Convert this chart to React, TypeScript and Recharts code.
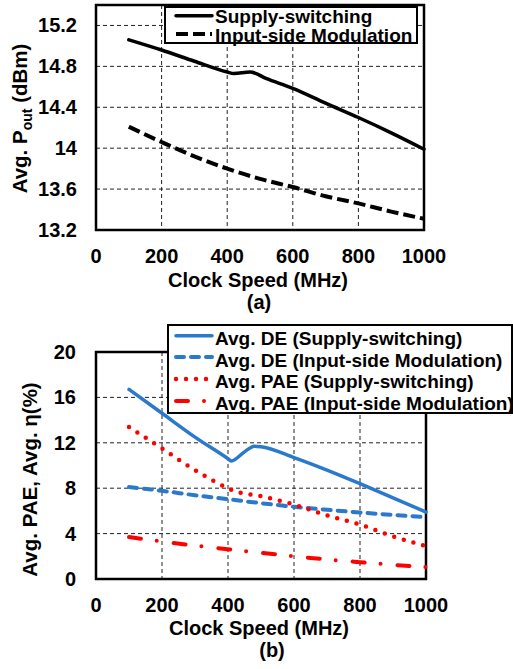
import React from 'react';
import { LineChart, Line, XAxis, YAxis, CartesianGrid, ReferenceArea, Label } from 'recharts';

// ---------- Data: chart (a) ----------
const clockSupplyA = [100, 200, 300, 400, 420, 470, 520, 600, 700, 800, 900, 1000];
const poutSupply = [15.06, 14.96, 14.85, 14.745, 14.73, 14.745, 14.68, 14.585, 14.44, 14.3, 14.15, 13.99];
const clockInputA = [100, 200, 300, 400, 500, 600, 700, 800, 900, 1000];
const poutInput = [14.21, 14.06, 13.92, 13.8, 13.7, 13.62, 13.53, 13.46, 13.38, 13.31];

// ---------- Data: chart (b) ----------
const clockDeSupply = [100, 200, 300, 400, 410, 450, 480, 500, 600, 700, 800, 900, 1000];
const deSupply = [16.7, 14.6, 12.5, 10.6, 10.4, 11.2, 11.7, 11.65, 10.7, 9.6, 8.4, 7.15, 5.9];
const clockDeInput = [100, 200, 300, 400, 500, 600, 700, 800, 900, 1000];
const deInput = [8.1, 7.77, 7.38, 7.03, 6.68, 6.36, 6.1, 5.86, 5.65, 5.45];
const clockPaeSupply = [100, 200, 300, 400, 420, 500, 600, 700, 800, 900, 1000];
const paeSupply = [13.4, 11.5, 9.6, 8.0, 7.75, 7.3, 6.55, 5.6, 4.8, 3.75, 2.9];
const clockPaeInput = [100, 200, 300, 400, 500, 600, 700, 800, 900, 1000];
const paeInput = [3.7, 3.3, 2.95, 2.62, 2.3, 2.0, 1.72, 1.48, 1.25, 1.05];

// ---------- Ticks ----------
const xTicks = [0, 200, 400, 600, 800, 1000];
const yTicksA = [13.2, 13.6, 14, 14.4, 14.8, 15.2];
const yTicksB = [0, 4, 8, 12, 16, 20];

const FONT = '"Liberation Sans", Arial, sans-serif';
const BLUE = '#2b79cc';
const RED = '#ff0000';

const zip = (xs: number[], ys: number[]) => xs.map((x, i) => ({ x, y: ys[i] }));

const seriesA = [
  { name: 'Supply-switching', data: zip(clockSupplyA, poutSupply), color: '#000', width: 3.5, dash: undefined as string | undefined, cap: 'round' },
  { name: 'Input-side Modulation', data: zip(clockInputA, poutInput), color: '#000', width: 4, dash: '12 5', cap: 'butt' },
];

const seriesB = [
  { name: 'Avg. DE (Supply-switching)', data: zip(clockDeSupply, deSupply), color: BLUE, width: 3.5, dash: undefined as string | undefined, cap: 'round' },
  { name: 'Avg. DE (Input-side Modulation)', data: zip(clockDeInput, deInput), color: BLUE, width: 4, dash: '8 7', cap: 'round' },
  { name: 'Avg. PAE (Supply-switching)', data: zip(clockPaeSupply, paeSupply), color: RED, width: 4.5, dash: '0 10', cap: 'round' },
  { name: 'Avg. PAE (Input-side Modulation)', data: zip(clockPaeInput, paeInput), color: RED, width: 4, dash: '12 16 0 17', cap: 'round' },
];

const XTick = (props: any) => {
  const { x, y, payload } = props;
  return (
    <text x={x} y={y + 33} textAnchor="middle" fontSize={20} fontWeight="bold" fontFamily={FONT} fill="#000">
      {payload.value}
    </text>
  );
};

const makeYTick = (gap: number) => (props: any) => {
  const { x, y, payload } = props;
  return (
    <text x={x - gap} y={y + 7} textAnchor="end" fontSize={20} fontWeight="bold" fontFamily={FONT} fill="#000">
      {String(payload.value)}
    </text>
  );
};

const XTitle = (dy1: number, dy2: number, sub: string, subDx: number) => (props: any) => {
  const vb = props.viewBox || {};
  const cx = vb.x + vb.width / 2;
  return (
    <g>
      <text x={cx - 2} y={vb.y + dy1} textAnchor="middle" fontSize={20} fontWeight="bold" fontFamily={FONT} fill="#000">
        Clock Speed (MHz)
      </text>
      <text x={cx + subDx} y={vb.y + dy2} textAnchor="middle" fontSize={20} fontWeight="bold" fontFamily={FONT} fill="#000">
        {sub}
      </text>
    </g>
  );
};

const YTitleA = (props: any) => {
  const vb = props.viewBox || {};
  const cx = 27;
  const cy = vb.y + vb.height / 2 + 1;
  return (
    <text x={cx} y={cy} transform={`rotate(-90, ${cx}, ${cy})`} textAnchor="middle" fontSize={20.5} fontWeight="bold" fontFamily={FONT} fill="#000">
      Avg. P<tspan fontSize={14} dy={5}>out</tspan><tspan dy={-5}> (dBm)</tspan>
    </text>
  );
};

const YTitleB = (props: any) => {
  const vb = props.viewBox || {};
  const cx = 37;
  const cy = vb.y + vb.height / 2 + 14;
  return (
    <text x={cx} y={cy} transform={`rotate(-90, ${cx}, ${cy})`} textAnchor="middle" fontSize={20.5} fontWeight="bold" fontFamily={FONT} fill="#000">
      Avg. PAE, Avg. η(%)
    </text>
  );
};

type LegendBox = { x: number; y: number; w: number; h: number; rows: number[]; samples: number[] };

const LegendOverlay = ({ series, box, top, height }: { series: typeof seriesA; box: LegendBox; top: number; height: number }) => (
  <svg width={513} height={height} style={{ position: 'absolute', left: 0, top, pointerEvents: 'none' }}>
    <rect x={box.x} y={box.y} width={box.w} height={box.h} fill="#fff" stroke="#000" strokeWidth={2} />
    {series.map((s, i) => (
      <g key={s.name}>
        <line
          x1={176}
          x2={212}
          y1={box.samples[i]}
          y2={box.samples[i]}
          stroke={s.color}
          strokeWidth={s.width}
          strokeDasharray={s.dash}
          strokeLinecap={s.cap as any}
        />
        <text x={215} y={box.rows[i]} fontSize={19} fontWeight="bold" fontFamily={FONT} fill="#000">
          {s.name}
        </text>
      </g>
    ))}
  </svg>
);

const lineProps = (s: any) => ({
  data: s.data,
  dataKey: 'y',
  name: s.name,
  type: 'monotone' as const,
  stroke: s.color,
  strokeWidth: s.width,
  strokeDasharray: s.dash,
  strokeLinecap: s.cap,
  dot: false,
  activeDot: false,
  isAnimationActive: false,
});

export default function App() {
  return (
    <div style={{ position: 'absolute', left: 0, top: 0, width: 513, height: 669, background: '#fff', overflow: 'hidden' }}>
      <div style={{ position: 'absolute', left: 0, top: 0 }}>
        <LineChart width={513} height={320} margin={{ top: 5, right: 89, bottom: 0, left: 0 }}>
          <CartesianGrid stroke="#222" strokeDasharray="4 3" strokeWidth={1} />
          <XAxis
            type="number"
            dataKey="x"
            domain={[0, 1000]}
            ticks={xTicks}
            height={90}
            axisLine={false}
            tickLine={false}
            tickSize={0}
            tickMargin={0}
            tick={<XTick />}
            interval={0}
          >
            <Label content={XTitle(57, 79, '(a)', -1)} />
          </XAxis>
          <YAxis
            type="number"
            domain={[13.2, 15.4]}
            ticks={yTicksA}
            width={96}
            axisLine={false}
            tickLine={false}
            tickSize={0}
            tickMargin={0}
            tick={makeYTick(19)}
            interval={0}
          >
            <Label content={YTitleA} />
          </YAxis>
          <ReferenceArea x1={0} x2={1000} y1={13.2} y2={15.4} fill="none" stroke="#000" strokeWidth={2.5} ifOverflow="visible" />
          {seriesA.map((s) => (
            <Line key={s.name} {...(lineProps(s) as any)} />
          ))}
        </LineChart>
        <LegendOverlay
          series={seriesA}
          top={0}
          height={320}
          box={{ x: 165, y: 7, w: 252, h: 36, rows: [23, 42], samples: [15.7, 34] }}
        />
      </div>
      <div style={{ position: 'absolute', left: 0, top: 320 }}>
        <LineChart width={513} height={349} margin={{ top: 32, right: 87, bottom: 0, left: 0 }}>
          <CartesianGrid stroke="#222" strokeDasharray="4 3" strokeWidth={1} />
          <XAxis
            type="number"
            dataKey="x"
            domain={[0, 1000]}
            ticks={xTicks}
            height={90}
            axisLine={false}
            tickLine={false}
            tickSize={0}
            tickMargin={0}
            tick={<XTick />}
            interval={0}
          >
            <Label content={XTitle(56, 78, '(b)', 11)} />
          </XAxis>
          <YAxis
            type="number"
            domain={[0, 20]}
            ticks={yTicksB}
            width={96}
            axisLine={false}
            tickLine={false}
            tickSize={0}
            tickMargin={0}
            tick={makeYTick(20)}
            interval={0}
          >
            <Label content={YTitleB} />
          </YAxis>
          <ReferenceArea x1={0} x2={1000} y1={0} y2={20} fill="none" stroke="#000" strokeWidth={2.5} ifOverflow="visible" />
          {seriesB.map((s) => (
            <Line key={s.name} {...(lineProps(s) as any)} />
          ))}
        </LineChart>
        <LegendOverlay
          series={seriesB}
          top={0}
          height={349}
          box={{ x: 168, y: 5, w: 344, h: 88, rows: [25, 47, 68, 90], samples: [15.7, 37, 59, 81] }}
        />
      </div>
    </div>
  );
}
